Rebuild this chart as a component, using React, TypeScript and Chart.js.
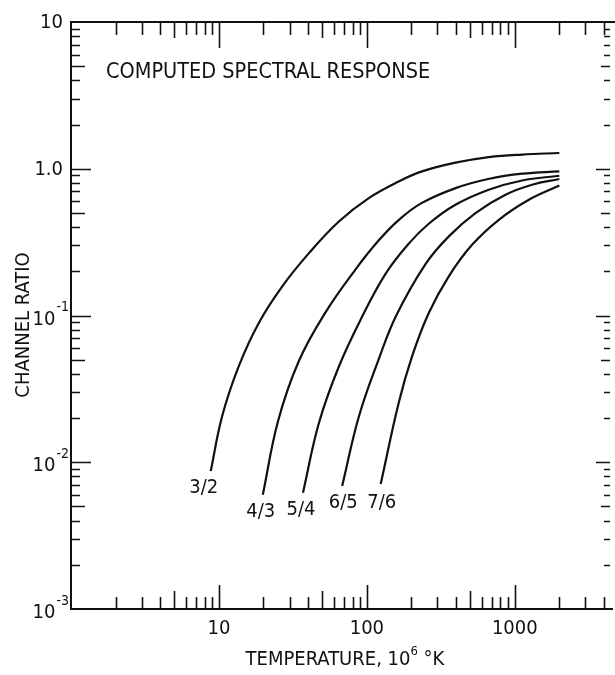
import { useEffect, useRef } from "react";
import { Chart, registerables } from "chart.js";

Chart.register(...registerables);

// Axis ranges (log-log)
const X_MIN = 1;
const X_MAX = 4400;
const Y_MIN = 0.001;
const Y_MAX = 10;

// Channel pairs
const seriesNames = ["3/2", "4/3", "5/4", "6/5", "7/6"];

// Temperature (10^6 K) and channel ratio for each pair
const temp32 = [8.8, 10.5, 13.6, 18.6, 26.8, 40.6, 64.7, 103, 164, 236, 397, 667, 1120, 2000];
const ratio32 = [0.0087, 0.0205, 0.045, 0.089, 0.158, 0.266, 0.437, 0.631, 0.819, 0.959, 1.1, 1.2, 1.25, 1.28];

const temp43 = [19.8, 25.1, 34.7, 52.5, 83.2, 120, 166, 234, 398, 661, 1122, 2000];
const ratio43 = [0.006, 0.0191, 0.049, 0.105, 0.204, 0.324, 0.452, 0.583, 0.738, 0.851, 0.925, 0.959];

const temp54 = [37, 47.4, 64.7, 93, 134, 192, 262, 397, 667, 1120, 2000];
const ratio54 = [0.0062, 0.0185, 0.0449, 0.0984, 0.193, 0.309, 0.422, 0.568, 0.719, 0.832, 0.896];

const temp65 = [68.1, 88.3, 120, 158, 249, 358, 542, 865, 1309, 2000];
const ratio65 = [0.0069, 0.0205, 0.0501, 0.1, 0.224, 0.346, 0.499, 0.665, 0.778, 0.851];

const temp76 = [124, 164, 202, 262, 358, 514, 780, 1245, 2000];
const ratio76 = [0.0071, 0.0253, 0.0526, 0.104, 0.185, 0.303, 0.449, 0.615, 0.769];

const seriesTemps = [temp32, temp43, temp54, temp65, temp76];
const seriesRatios = [ratio32, ratio43, ratio54, ratio65, ratio76];

// Tick labels
const xTickValues = [10, 100, 1000];
const xTickLabels = ["10", "100", "1000"];
const yTickValues = [10, 1, 0.1, 0.01, 0.001];
const yTickBases = ["10", "1.0", "10", "10", "10"];
const yTickExps = ["", "", "-1", "-2", "-3"];

const chartTitle = "COMPUTED SPECTRAL RESPONSE";
const xTitle = "TEMPERATURE, 10";
const xTitleExp = "6";
const xTitleUnit = "°K";
const yTitle = "CHANNEL RATIO";

// Where each pair's name sits relative to the low end of its curve
const labelOffsets: [number, number][] = [
  [-7, 17],
  [-2, 17],
  [-2, 17],
  [1, 17],
  [1, 19],
];

const INK = "#111";
const FONT = '"DejaVu Sans Condensed", "DejaVu Sans", sans-serif';

const frame = {
  id: "frame",
  afterDraw(chart: any) {
    const { ctx, chartArea: a, scales } = chart;
    const x = scales.x;
    const y = scales.y;
    ctx.save();
    ctx.strokeStyle = INK;
    ctx.fillStyle = INK;
    ctx.lineCap = "butt";

    // border: top, left, bottom
    ctx.lineWidth = 2;
    ctx.beginPath();
    ctx.moveTo(a.left - 1, a.top);
    ctx.lineTo(a.right + 6, a.top);
    ctx.moveTo(a.left, a.top - 1);
    ctx.lineTo(a.left, a.bottom + 1);
    ctx.moveTo(a.left - 1, a.bottom);
    ctx.lineTo(a.right + 3, a.bottom);
    ctx.stroke();

    // x ticks (bottom point up, top point down)
    ctx.lineWidth = 1.6;
    ctx.beginPath();
    for (let d = 0; d <= 3; d++) {
      for (let n = 1; n <= 9; n++) {
        const v = n * Math.pow(10, d);
        if (v <= X_MIN || v > X_MAX) continue;
        const px = Math.round(x.getPixelForValue(v)) + 0.5;
        const lb = n === 1 ? 24 : n === 5 ? 18 : 12;
        const lt = n === 1 ? 26 : n === 5 ? 16 : 13;
        ctx.moveTo(px, a.bottom);
        ctx.lineTo(px, a.bottom - lb);
        ctx.moveTo(px, a.top);
        ctx.lineTo(px, a.top + lt);
      }
    }
    // y ticks (left point right, right point left)
    for (let d = -3; d <= 0; d++) {
      for (let n = 1; n <= 10; n++) {
        const v = n * Math.pow(10, d);
        if (v <= Y_MIN || v >= Y_MAX) continue;
        if (n === 10 && d < 0) continue;
        const py = Math.round(y.getPixelForValue(v)) + 0.5;
        const major = n === 1 || n === 10;
        const ll = major ? 20 : n === 5 ? 14 : 9;
        const lr = major ? 14 : n === 5 ? 9 : 6;
        ctx.moveTo(a.left, py);
        ctx.lineTo(a.left + ll, py);
        ctx.moveTo(a.right, py);
        ctx.lineTo(a.right - lr, py);
      }
    }
    ctx.stroke();

    // x tick labels
    ctx.font = `20px ${FONT}`;
    ctx.textAlign = "center";
    ctx.textBaseline = "middle";
    xTickValues.forEach((v, i) => {
      ctx.fillText(xTickLabels[i], x.getPixelForValue(v), a.bottom + 20);
    });

    // y tick labels, with exponents raised
    yTickValues.forEach((v, i) => {
      const py = y.getPixelForValue(v);
      const exp = yTickExps[i];
      if (!exp) {
        ctx.font = `20px ${FONT}`;
        ctx.textAlign = "right";
        ctx.textBaseline = "middle";
        ctx.fillText(yTickBases[i], a.left - 8, py + 1);
      } else {
        ctx.font = `14px ${FONT}`;
        ctx.textAlign = "right";
        ctx.textBaseline = "middle";
        ctx.fillText(exp, a.left - 2, py - 8);
        const ew = ctx.measureText(exp).width;
        ctx.font = `20px ${FONT}`;
        ctx.fillText(yTickBases[i], a.left - 3 - ew, py + 4);
      }
    });

    // chart title
    ctx.font = `21.5px ${FONT}`;
    ctx.textAlign = "left";
    ctx.textBaseline = "middle";
    ctx.fillText(chartTitle, 106, 72);

    // x axis title with superscript
    const cx = (a.left + 615) / 2 + 2;
    ctx.font = `20px ${FONT}`;
    const w1 = ctx.measureText(xTitle).width;
    const w3 = ctx.measureText(" " + xTitleUnit).width;
    ctx.font = `13px ${FONT}`;
    const w2 = ctx.measureText(xTitleExp).width;
    const total = w1 + w2 + w3;
    let tx = cx - total / 2;
    ctx.textAlign = "left";
    ctx.font = `20px ${FONT}`;
    ctx.fillText(xTitle, tx, 660);
    tx += w1;
    ctx.font = `13px ${FONT}`;
    ctx.fillText(xTitleExp, tx, 652);
    tx += w2;
    ctx.font = `20px ${FONT}`;
    ctx.fillText(" " + xTitleUnit, tx, 660);

    // y axis title
    ctx.save();
    ctx.translate(24, 325);
    ctx.rotate(-Math.PI / 2);
    ctx.textAlign = "center";
    ctx.textBaseline = "middle";
    ctx.font = `20px ${FONT}`;
    ctx.fillText(yTitle, 0, 0);
    ctx.restore();

    // curve names below each low end
    ctx.font = `20px ${FONT}`;
    ctx.textAlign = "center";
    ctx.textBaseline = "middle";
    seriesNames.forEach((name, i) => {
      const px = x.getPixelForValue(seriesTemps[i][0]);
      const py = y.getPixelForValue(seriesRatios[i][0]);
      const [dx, dy] = labelOffsets[i];
      ctx.fillText(name, px + dx, py + dy);
    });

    ctx.restore();
  },
};

export default function App() {
  const ref = useRef<HTMLCanvasElement>(null);

  useEffect(() => {
    const canvas = ref.current;
    if (!canvas) return;
    const chart = new Chart(canvas, {
      type: "line",
      data: {
        datasets: seriesNames.map((name, i) => ({
          label: name,
          data: seriesTemps[i].map((t, j) => ({ x: t, y: seriesRatios[i][j] })),
          borderColor: INK,
          borderWidth: 2.2,
          pointRadius: 0,
          fill: false,
          tension: 0.4,
        })),
      },
      options: {
        responsive: false,
        animation: false,
        devicePixelRatio: 1,
        layout: { padding: { left: 71, top: 22, right: 5, bottom: 66 } },
        plugins: {
          legend: { display: false },
          tooltip: { enabled: false },
          title: { display: false },
        },
        scales: {
          x: { type: "logarithmic", min: X_MIN, max: X_MAX, display: false },
          y: { type: "logarithmic", min: Y_MIN, max: Y_MAX, display: false },
        },
      },
      plugins: [frame],
    });
    return () => chart.destroy();
  }, []);

  return (
    <div style={{ position: "fixed", left: 0, top: 0, width: 615, height: 675, background: "#fff", overflow: "hidden" }}>
      <canvas ref={ref} width={615} height={675} style={{ display: "block" }} />
    </div>
  );
}
